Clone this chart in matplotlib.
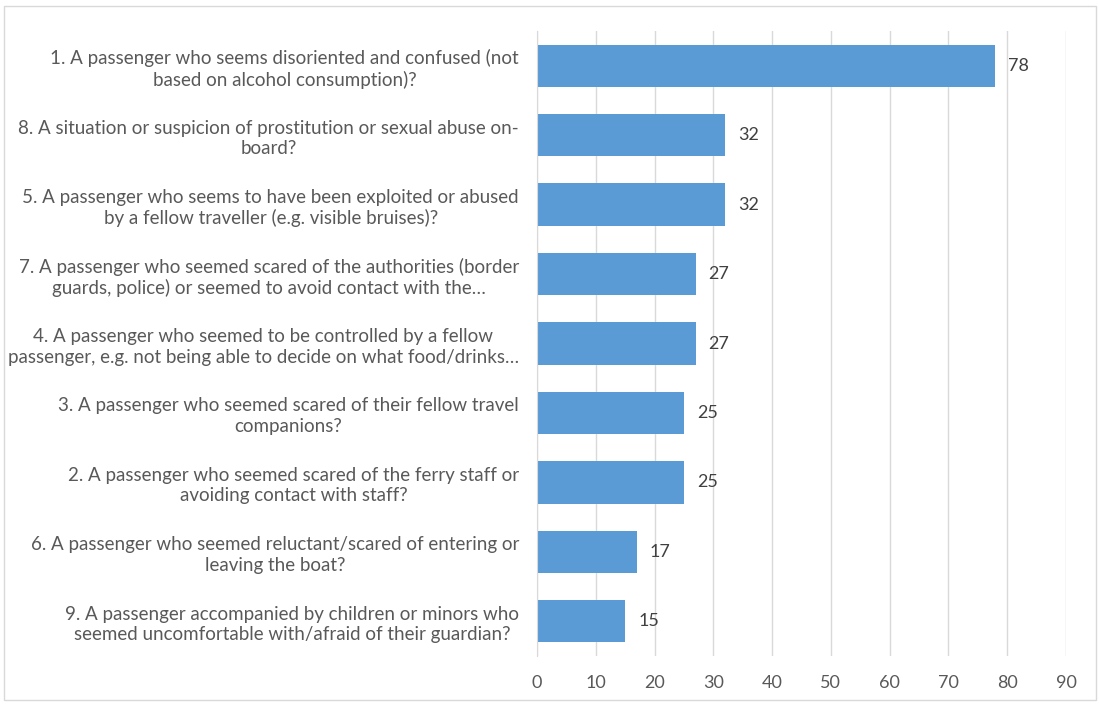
import matplotlib.pyplot as plt
import matplotlib.patches as mpatches

plt.rcParams["font.family"] = ["Lato", "DejaVu Sans"]

questions = [
    "1. A passenger who seems disoriented and confused (not\nbased on alcohol consumption)?",
    "8. A situation or suspicion of prostitution or sexual abuse on-\nboard?",
    "5. A passenger who seems to have been exploited or abused\nby a fellow traveller (e.g. visible bruises)?",
    "7. A passenger who seemed scared of the authorities (border\nguards, police) or seemed to avoid contact with the…",
    "4. A passenger who seemed to be controlled by a fellow\npassenger, e.g. not being able to decide on what food/drinks…",
    "3. A passenger who seemed scared of their fellow travel\ncompanions?",
    "2. A passenger who seemed scared of the ferry staff or\navoiding contact with staff?",
    "6. A passenger who seemed reluctant/scared of entering or\nleaving the boat?",
    "9. A passenger accompanied by children or minors who\nseemed uncomfortable with/afraid of their guardian?",
]
counts = [78, 32, 32, 27, 27, 25, 25, 17, 15]
x_ticks = list(range(0, 100, 10))

BAR = "#5B9BD5"
TEXT = "#595959"
GRID = "#D9D9D9"

fig = plt.figure(figsize=(10.99, 7.04), dpi=100)
ax = fig.add_axes([537 / 1099, 1 - 656 / 704, (1066 - 537) / 1099, (656 - 31) / 704])

ypos = list(range(len(counts)))
ax.barh(ypos, counts, height=0.61, color=BAR, zorder=3)
ax.set_ylim(len(counts) - 0.5, -0.5)
ax.set_xlim(0, 90)

for y, v in zip(ypos, counts):
    ax.text(v + 2.2, y, str(v), va="center", ha="left", fontsize=13, color="#404040")

ax.set_xticks(x_ticks)
ax.set_xticklabels([str(t) for t in x_ticks], fontsize=13, color=TEXT)
ax.set_yticks(ypos)
ax.set_yticklabels(questions, fontsize=13.5, color=TEXT,
                   multialignment="center", linespacing=1.25)
ax.tick_params(axis="x", length=0, pad=14)
ax.tick_params(axis="y", length=0, pad=13)
ax.grid(axis="x", color=GRID, linewidth=1, zorder=0)
for side in ["top", "right", "bottom"]:
    ax.spines[side].set_visible(False)
ax.spines["left"].set_color(GRID)
ax.spines["left"].set_zorder(4)

# light frame around the whole chart area
fig.patches.append(mpatches.Rectangle(
    (4 / 1099, 4 / 704), 1092 / 1099, 694 / 704, transform=fig.transFigure,
    fill=False, edgecolor="#D9D9D9", linewidth=1))

fig.savefig("out.png", dpi=100)
